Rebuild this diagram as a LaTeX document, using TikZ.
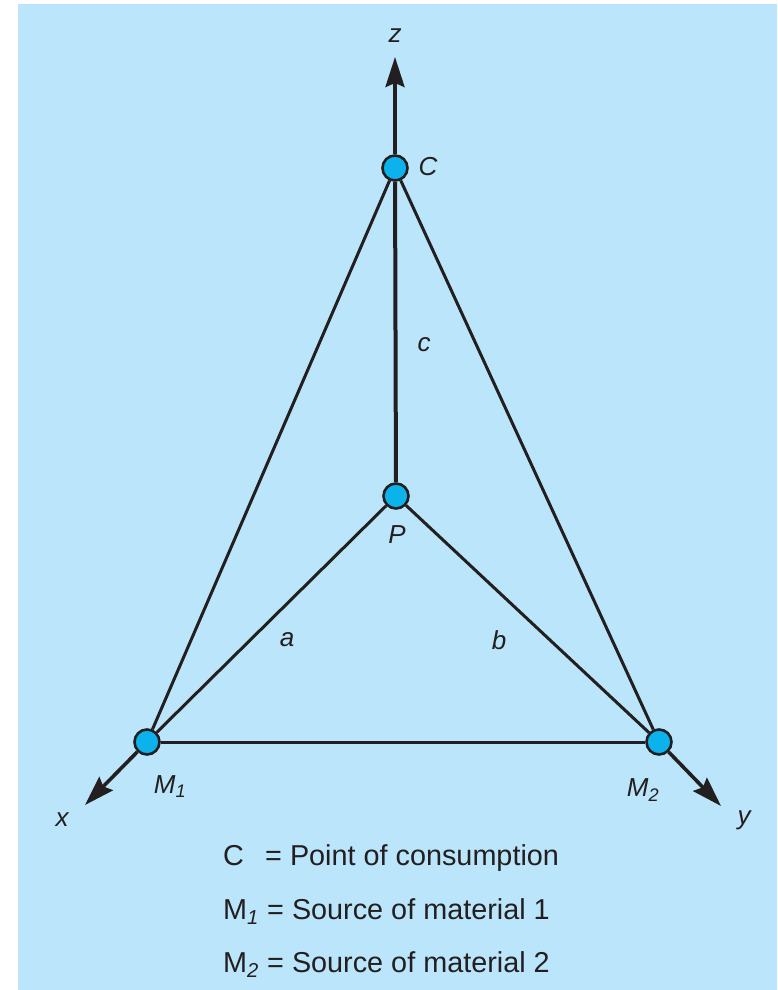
\documentclass[tikz,border=0pt]{standalone}
\usepackage{fontspec}
\setmainfont{Liberation Sans}
\usetikzlibrary{arrows.meta}
\definecolor{bg}{HTML}{BAE5FA}
\definecolor{dot}{HTML}{0CB2EC}
\definecolor{ink}{HTML}{231F20}
\begin{document}
\begin{tikzpicture}[x=1pt,y=-1pt,
  pt/.style={circle,draw=ink,fill=dot,line width=2.6pt,minimum size=25pt,inner sep=0pt},
  edge/.style={draw=ink,line width=3pt},
  thick edge/.style={draw=ink,line width=4pt},
  axis/.style={draw=ink,line width=3.6pt,-{Stealth[length=30pt,width=19pt,inset=4pt]}},
  lbl/.style={font=\fontsize{26}{30}\selectfont\itshape,text=ink,inner sep=0pt},
  leg/.style={font=\fontsize{28.8}{32}\selectfont,text=ink,inner sep=0pt,anchor=base west}]
\useasboundingbox (0,0) rectangle (777,990);
\fill[bg] (18,4) rectangle (777,990);
% points
\node[pt] (C) at (395,168) {};
\node[pt] (P) at (396,496) {};
\node[pt] (M1) at (147,742) {};
\node[pt] (M2) at (659,742) {};
\coordinate (zt) at (395,57);
\coordinate (xt) at (85,805);
\coordinate (yt) at (721,806);
% edges
\draw[edge] (C) -- (M1);
\draw[edge] (C) -- (M2);
\draw[thick edge] (C) -- (P);
\draw[edge] (P) -- (M1);
\draw[edge] (P) -- (M2);
\draw[edge] (M1) -- (M2);
% axes
\draw[axis] (C) -- (zt);
\draw[axis] (M1) -- (xt);
\draw[axis] (M2) -- (yt);
% labels
\node[lbl] (lz) at (395,36) {z};
\node[lbl] (lx) at (62,820) {x};
\node[lbl] (ly) at (744,820) {y};
\node[lbl] (lC) at (428,167) {C};
\node[lbl] (lc) at (424,345) {c};
\node[lbl] (lP) at (397,535) {P};
\node[lbl] (la) at (287,640) {a};
\node[lbl] (lb) at (499,640) {b};
\node[lbl] (lM1) at (170,787) {M\textsubscript{1}};
\node[lbl] (lM2) at (643,790) {M\textsubscript{2}};
% legend
\node[leg] (k1) at (223,865) {C};
\node[leg] (v1) at (265,865) {= Point of consumption};
\node[leg] (k2) at (223,919) {M\textsubscript{\itshape 1}};
\node[leg] (v2) at (267,919) {= Source of material 1};
\node[leg] (k3) at (223,972) {M\textsubscript{\itshape 2}};
\node[leg] (v3) at (267,972) {= Source of material 2};
\end{tikzpicture}
\end{document}
